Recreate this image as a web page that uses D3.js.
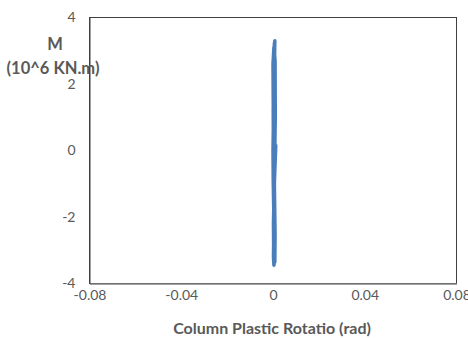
<!DOCTYPE html>
<html>
<head>
<meta charset="utf-8">
<script src="https://cdn.jsdelivr.net/npm/d3@7"></script>
<style>
  html, body { margin: 0; padding: 0; background: #fff; }
  svg { display: block; }
</style>
</head>
<body>
<svg id="chart" width="468" height="338"></svg>
<script>
// Column plastic rotation (rad) vs moment (10^6 KN.m) – hysteresis trace
const rotation = [0, 0.0002, 0.0004, 0.0002, 0.0000, 0.0001, 0.0003, 0.0002, 0.0004, 0.0006, 0.0003, 0.0001,
                  0.0002, 0.0005, 0.0007, 0.0004, 0.0002, 0.0001, 0.0003, 0.0006, 0.0008, 0.0005, 0.0002, 0.0003,
                  0.0012, 0.0006, 0.0003, 0.0002, 0.0004, 0.0007, 0.0005, 0.0004, 0.0001, 0.0000, 0.0004, 0.0009,
                  0.0010, 0.0006, 0.0002, 0.0003, 0.0008, 0.0009, 0.0005];
const moment   = [0, 0.8, 1.6, 0.9, 0.0, -0.9, -1.7, -0.8, 0.5, 2.2, 2.5, 1.2,
                  -0.6, -2.3, -2.8, -1.5, 0.3, 1.8, 2.9, 3.2, 3.3, 2.0, 0.4, -0.2,
                  0.15, -1.0, -2.6, -3.2, -3.45, -3.3, -1.5, 0.0, 1.5, 2.6, 3.1, 2.7,
                  1.0, -0.8, -2.2, -3.1, -3.35, -2.5, -0.5];
const xTicks = [-0.08, -0.04, 0, 0.04, 0.08];
const yTicks = [-4, -2, 0, 2, 4];
const xTickLabels = ["-0.08", "-0.04", "0", "0.04", "0.08"];
const yTickLabels = ["-4", "-2", "0", "2", "4"];
const xTitle = "Column Plastic Rotatio (rad)";
const yTitle = ["M", "(10^6 KN.m)"];

(function () {
const svg = d3.select("#chart");
const font = "Lato, 'Open Sans', sans-serif";
const pLeft = 89.5, pRight = 456.5, pTop = 17.5, pBottom = 283.5;

const x = d3.scaleLinear().domain([-0.08, 0.08]).range([pLeft, pRight]);
const y = d3.scaleLinear().domain([-4, 4]).range([pBottom, pTop]);

// plot frame
svg.append("rect")
  .attr("x", pLeft).attr("y", pTop)
  .attr("width", pRight - pLeft).attr("height", pBottom - pTop)
  .attr("fill", "none").attr("stroke", "#404040").attr("stroke-width", 1);

// x axis
const xAxis = d3.axisBottom(x).tickValues(xTicks)
  .tickFormat((d, i) => xTickLabels[i]).tickSize(0).tickPadding(7);
const gx = svg.append("g").attr("transform", `translate(0,${pBottom})`).call(xAxis);
gx.select(".domain").attr("stroke", "#808080").attr("stroke-width", 1.5);
gx.selectAll("text").attr("font-family", font).attr("font-size", 14).attr("fill", "#595959");

// y axis
const yAxis = d3.axisLeft(y).tickValues(yTicks)
  .tickFormat((d, i) => yTickLabels[i]).tickSize(0).tickPadding(14);
const gy = svg.append("g").attr("transform", `translate(${pLeft},0)`).call(yAxis);
gy.select(".domain").attr("stroke", "#404040").attr("stroke-width", 1);
gy.selectAll("text").attr("font-family", font).attr("font-size", 14).attr("fill", "#595959");

// series
const pts = rotation.map((r, i) => [r, moment[i]]);
const line = d3.line().x(d => x(d[0])).y(d => y(d[1])).curve(d3.curveLinear);
svg.append("path")
  .datum(pts)
  .attr("d", line)
  .attr("fill", "none")
  .attr("stroke", "#4A7EBB")
  .attr("stroke-width", 3.5)
  .attr("stroke-linejoin", "round")
  .attr("stroke-linecap", "round");

// titles
svg.append("text")
  .attr("x", (pLeft + pRight) / 2 - 1).attr("y", 334)
  .attr("text-anchor", "middle")
  .attr("font-family", font).attr("font-weight", "bold").attr("font-size", 16)
  .attr("fill", "#595959").text(xTitle);

svg.append("text")
  .attr("x", 55).attr("y", 50)
  .attr("text-anchor", "middle")
  .attr("font-family", font).attr("font-weight", "bold").attr("font-size", 16.5)
  .attr("fill", "#595959").text(yTitle[0]);
svg.append("text")
  .attr("x", 53).attr("y", 74)
  .attr("text-anchor", "middle")
  .attr("font-family", font).attr("font-weight", "bold").attr("font-size", 16.5)
  .attr("fill", "#595959").text(yTitle[1]);
})();
</script>
</body>
</html>
